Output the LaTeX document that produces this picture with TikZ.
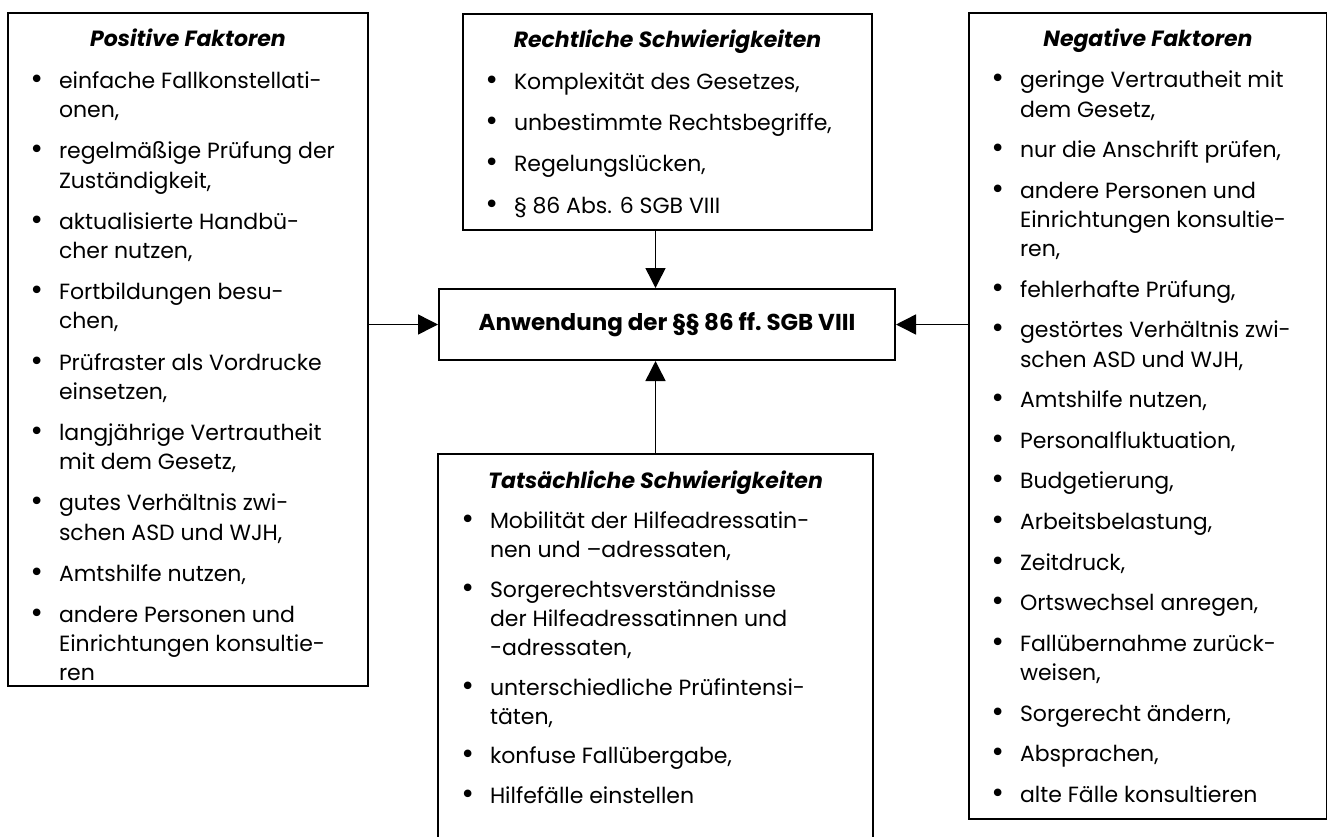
\documentclass[tikz,border=0pt]{standalone}
\usepackage{fontspec}
\setmainfont{Poppins}
\newfontfamily\bulletfont{DejaVu Sans}
\usetikzlibrary{arrows.meta}

\newcommand\boxtext[5][6pt]{%
  \parbox[c][#3][t]{#2}{\fontsize{11}{14.6}\selectfont
    \setlength\parskip{#1}%
    \noindent\makebox[\linewidth]{\rule{0pt}{16.5pt}\textbf{\textit{#4}}}\par
    \vspace{0.6pt}%
    \leftskip=25.5pt \rightskip=0pt plus 1fil \hyphenpenalty=10000
    #5}}
\newcommand\bitem[1]{\leavevmode\llap{\makebox[15pt][l]{\bulletfont\fontsize{13}{14}\selectfont\char"2022}}#1\par}

\begin{document}
\begin{tikzpicture}[x=0.5pt, y=-0.5pt,
  box/.style = {draw, line width=1pt, inner sep=0pt, anchor=north west},
  link/.style = {line width=0.75pt, -{Triangle[length=10pt, width=10pt]}}]
  \useasboundingbox (0,0) rectangle (1327,836);

  \node[box] (pos) at (7,12) {\boxtext{180pt}{336.5pt}{Positive Faktoren}{
    \bitem{einfache Fallkonstellati-\\onen,}
    \bitem{regelmäßige Prüfung der\\Zuständigkeit,}
    \bitem{aktualisierte Handbü-\\cher nutzen,}
    \bitem{Fortbildungen besu-\\chen,}
    \bitem{Prüfraster als Vordrucke\\einsetzen,}
    \bitem{langjährige Vertrautheit\\mit dem Gesetz,}
    \bitem{gutes Verhältnis zwi-\\schen ASD und WJH,}
    \bitem{Amtshilfe nutzen,}
    \bitem{andere Personen und\\Einrichtungen konsultie-\\ren}}};

  \node[box] (law) at (462,13) {\boxtext{204.5pt}{108pt}{Rechtliche Schwierigkeiten}{
    \bitem{Komplexität des Gesetzes,}
    \bitem{unbestimmte Rechtsbegriffe,}
    \bitem{Regelungslücken,}
    \bitem{§ 86 Abs. 6 SGB VIII}}};

  \node[box, minimum width=228pt, minimum height=35.5pt] (main) at (438,288)
    {\fontsize{11.5}{14}\selectfont\bfseries Anwendung der §§ 86 ff.\ SGB VIII};

  \node[box, draw=none] (fact) at (438,454) {\boxtext[5.1pt]{216.5pt}{193pt}{Tatsächliche Schwierigkeiten}{
    \bitem{Mobilität der Hilfeadressatin-\\nen und –adressaten,}
    \bitem{Sorgerechtsverständnisse\\der Hilfeadressatinnen und\\-adressaten,}
    \bitem{unterschiedliche Prüfintensi-\\täten,}
    \bitem{konfuse Fallübergabe,}
    \bitem{Hilfefälle einstellen}}};
  \draw[line width=1pt] (fact.south west) -- (fact.north west) -- (fact.north east) -- (fact.south east);

  \node[box] (neg) at (968,12) {\boxtext[5.7pt]{179pt}{403pt}{Negative Faktoren}{
    \bitem{geringe Vertrautheit mit\\dem Gesetz,}
    \bitem{nur die Anschrift prüfen,}
    \bitem{andere Personen und\\Einrichtungen konsultie-\\ren,}
    \bitem{fehlerhafte Prüfung,}
    \bitem{gestörtes Verhältnis zwi-\\schen ASD und WJH,}
    \bitem{Amtshilfe nutzen,}
    \bitem{Personalfluktuation,}
    \bitem{Budgetierung,}
    \bitem{Arbeitsbelastung,}
    \bitem{Zeitdruck,}
    \bitem{Ortswechsel anregen,}
    \bitem{Fallübernahme zurück-\\weisen,}
    \bitem{Sorgerecht ändern,}
    \bitem{Absprachen,}
    \bitem{alte Fälle konsultieren}}};

  \draw[link] (pos.east |- main) -- (main.west);
  \draw[link] (neg.west |- main) -- (main.east);
  \draw[link] (law.south -| fact.north) -- (main.north -| fact.north);
  \draw[link] (fact.north) -- (main.south -| fact.north);
\end{tikzpicture}
\end{document}
